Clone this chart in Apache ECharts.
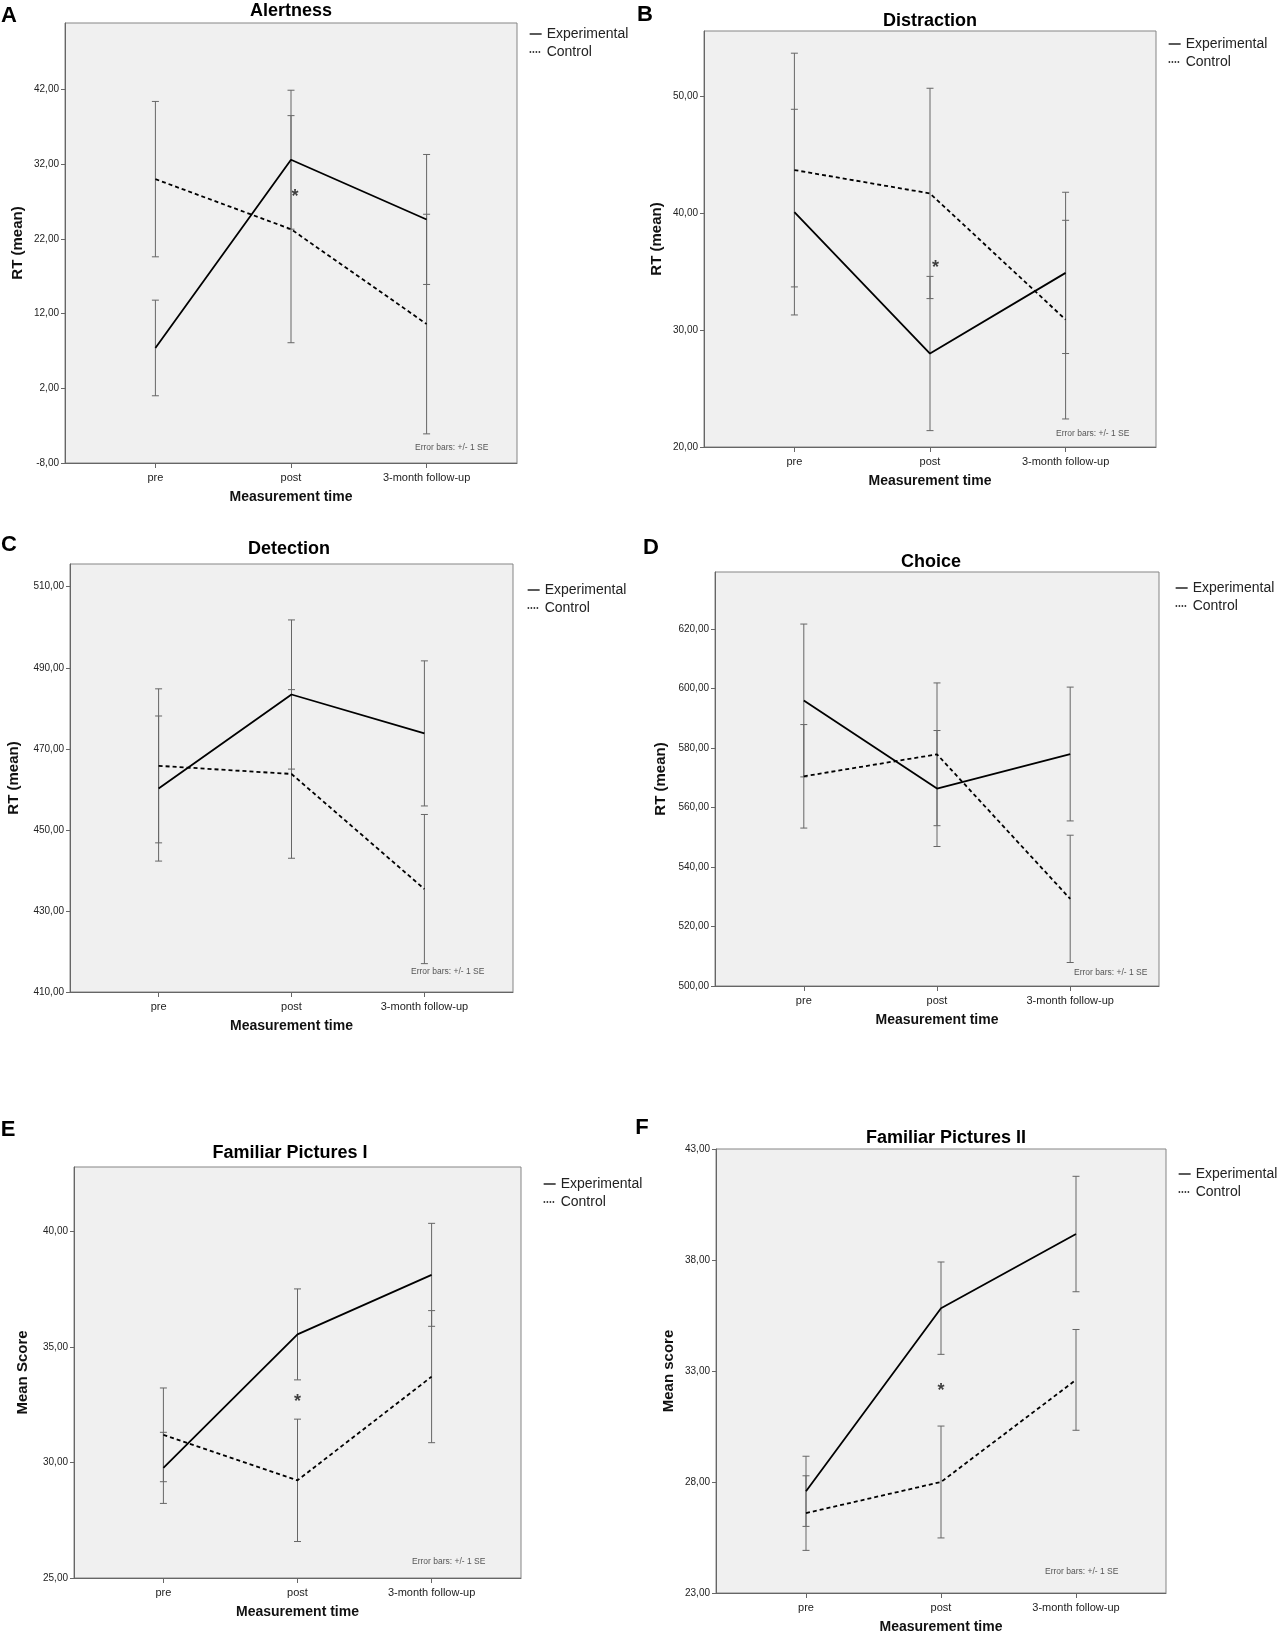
<!DOCTYPE html>
<html>
<head>
<meta charset="utf-8">
<script src="https://cdn.jsdelivr.net/npm/echarts@6/dist/echarts.min.js"></script>
<style>
  html, body { margin: 0; background: #fff; }
  #main { width: 1277px; height: 1639px; }
</style>
</head>
<body>
<div id="main"></div>
<script>
// measurement times (x categories)
var categories = ['pre', 'post', '3-month follow-up'];

// A - Alertness
var alertExp = [7.4, 32.6, 24.6];
var alertExpSE = [6.4, 9.3, 8.7];
var alertCtl = [30.0, 23.3, 10.6];
var alertCtlSE = [10.4, 15.2, 14.7];
var alertTicks = [-8, 2, 12, 22, 32, 42];

// B - Distraction
var distrExp = [40.1, 28.0, 34.9];
var distrExpSE = [8.8, 6.6, 6.9];
var distrCtl = [43.7, 41.7, 30.9];
var distrCtlSE = [10.0, 9.0, 8.5];
var distrTicks = [20, 30, 40, 50];

// C - Detection
var detectExp = [460.2, 483.4, 473.8];
var detectExpSE = [17.9, 18.4, 17.9];
var detectCtl = [465.8, 463.8, 435.4];
var detectCtlSE = [19.0, 20.8, 18.4];
var detectTicks = [410, 430, 450, 470, 490, 510];

// D - Choice
var choiceExp = [596.0, 566.4, 578.0];
var choiceExpSE = [25.7, 19.5, 22.5];
var choiceCtl = [570.5, 577.9, 529.3];
var choiceCtlSE = [17.4, 24.0, 21.4];
var choiceTicks = [500, 520, 540, 560, 580, 600, 620];

// E - Familiar Pictures I
var fam1Exp = [29.77, 35.55, 38.13];
var fam1ExpSE = [1.54, 1.97, 2.23];
var fam1Ctl = [31.2, 29.23, 33.72];
var fam1CtlSE = [2.03, 2.65, 2.86];
var fam1Ticks = [25, 30, 35, 40];

// F - Familiar Pictures II
var fam2Exp = [27.58, 35.83, 39.17];
var fam2ExpSE = [1.58, 2.08, 2.6];
var fam2Ctl = [26.6, 28.0, 32.6];
var fam2CtlSE = [1.68, 2.52, 2.27];
var fam2Ticks = [23, 28, 33, 38, 43];

// significance markers (x index, y value)
var alertSig = [1.03, 28.1];
var distrSig = [1.04, 35.7];
var fam1Sig = [1.0, 32.8];
var fam2Sig = [1.0, 32.3];

var panels = [
  { letter: 'A', title: 'Alertness', yName: 'RT (mean)', exp: alertExp, expSE: alertExpSE, ctl: alertCtl, ctlSE: alertCtlSE, ticks: alertTicks, min: -8, max: 50.9, sig: alertSig },
  { letter: 'B', title: 'Distraction', yName: 'RT (mean)', exp: distrExp, expSE: distrExpSE, ctl: distrCtl, ctlSE: distrCtlSE, ticks: distrTicks, min: 20, max: 55.6, sig: distrSig },
  { letter: 'C', title: 'Detection', yName: 'RT (mean)', exp: detectExp, expSE: detectExpSE, ctl: detectCtl, ctlSE: detectCtlSE, ticks: detectTicks, min: 410, max: 515.6, sig: null },
  { letter: 'D', title: 'Choice', yName: 'RT (mean)', exp: choiceExp, expSE: choiceExpSE, ctl: choiceCtl, ctlSE: choiceCtlSE, ticks: choiceTicks, min: 500, max: 639.2, sig: null },
  { letter: 'E', title: 'Familiar Pictures I', yName: 'Mean Score', exp: fam1Exp, expSE: fam1ExpSE, ctl: fam1Ctl, ctlSE: fam1CtlSE, ticks: fam1Ticks, min: 25, max: 42.8, sig: fam1Sig },
  { letter: 'F', title: 'Familiar Pictures II', yName: 'Mean score', exp: fam2Exp, expSE: fam2ExpSE, ctl: fam2Ctl, ctlSE: fam2CtlSE, ticks: fam2Ticks, min: 23, max: 43, sig: fam2Sig }
];

// layout of each panel in px: plot box, title, letter, legend, note, y name gap
var layouts = [
  { grid: [65, 23, 452, 440], title: [291, 11], letter: [9, 16], legend: [524, 22], note: [415, 448], yGap: 40 },
  { grid: [704, 31, 452, 416], title: [930, 21], letter: [645, 15], legend: [1163, 32], note: [1056, 434], yGap: 40 },
  { grid: [70, 564, 443, 428], title: [289, 549], letter: [9, 545], legend: [522, 578], note: [411, 972], yGap: 49 },
  { grid: [715, 572, 444, 414], title: [931, 562], letter: [651, 548], legend: [1170, 576], note: [1074, 973], yGap: 47 },
  { grid: [74, 1167, 447, 411], title: [290, 1153], letter: [8, 1130], legend: [538, 1172], note: [412, 1562], yGap: 44 },
  { grid: [716, 1149, 450, 444], title: [946, 1138], letter: [642, 1128], legend: [1173, 1162], note: [1045, 1572], yGap: 40 }
];

var FONT = "'Liberation Sans', Arial, sans-serif";

function fmt(v) {
  return v.toFixed(2).replace('.', ',');
}

function renderErrorBar(params, api) {
  var x = api.value(0);
  var lo = api.coord([x, api.value(1)]);
  var hi = api.coord([x, api.value(2)]);
  var w = 3.5;
  var st = { stroke: '#666', lineWidth: 1 };
  return {
    type: 'group',
    children: [
      { type: 'line', shape: { x1: lo[0], y1: lo[1], x2: hi[0], y2: hi[1] }, style: st },
      { type: 'line', shape: { x1: lo[0] - w, y1: lo[1], x2: lo[0] + w, y2: lo[1] }, style: st },
      { type: 'line', shape: { x1: hi[0] - w, y1: hi[1], x2: hi[0] + w, y2: hi[1] }, style: st }
    ]
  };
}

var grids = [], xAxes = [], yAxes = [], series = [], legends = [], texts = [];

panels.forEach(function (p, i) {
  var L = layouts[i];
  grids.push({
    left: L.grid[0], top: L.grid[1], width: L.grid[2], height: L.grid[3],
    show: true, backgroundColor: '#f0f0f0', borderColor: '#858585', borderWidth: 1
  });
  xAxes.push({
    gridIndex: i, type: 'value', min: -2 / 3, max: 8 / 3,
    axisLine: { show: true, onZero: false, lineStyle: { color: '#666' } },
    axisTick: { show: true, customValues: [0, 1, 2], length: 5, lineStyle: { color: '#666' } },
    axisLabel: {
      customValues: [0, 1, 2], margin: 9, fontSize: 11, color: '#222', fontFamily: FONT,
      formatter: function (v) { return categories[Math.round(v)]; }
    },
    splitLine: { show: false },
    name: 'Measurement time', nameLocation: 'middle', nameGap: 27,
    nameTextStyle: { fontSize: 14, fontWeight: 'bold', color: '#111', fontFamily: FONT }
  });
  yAxes.push({
    gridIndex: i, type: 'value', min: p.min, max: p.max,
    axisLine: { show: true, onZero: false, lineStyle: { color: '#666' } },
    axisTick: { show: true, customValues: p.ticks, length: 4, lineStyle: { color: '#666' } },
    axisLabel: { customValues: p.ticks, margin: 6, fontSize: 10, color: '#222', fontFamily: FONT, formatter: fmt },
    splitLine: { show: false },
    name: p.yName, nameLocation: 'middle', nameGap: L.yGap,
    nameTextStyle: { fontSize: 15, fontWeight: 'bold', color: '#111', fontFamily: FONT }
  });

  series.push({
    type: 'line', name: 'Experimental', xAxisIndex: i, yAxisIndex: i, z: 4,
    symbol: 'none', silent: true,
    data: p.exp.map(function (v, j) { return [j, v]; }),
    lineStyle: { color: '#000', width: 1.8 }, itemStyle: { color: '#000' }
  });
  series.push({
    type: 'line', name: 'Control', xAxisIndex: i, yAxisIndex: i, z: 4,
    symbol: 'none', silent: true,
    data: p.ctl.map(function (v, j) { return [j, v]; }),
    lineStyle: { color: '#000', width: 1.8, type: [4, 3] }, itemStyle: { color: '#000' }
  });
  var bars = [];
  p.exp.forEach(function (v, j) { bars.push([j, v - p.expSE[j], v + p.expSE[j]]); });
  p.ctl.forEach(function (v, j) { bars.push([j, v - p.ctlSE[j], v + p.ctlSE[j]]); });
  series.push({
    type: 'custom', name: 'se' + i, xAxisIndex: i, yAxisIndex: i, z: 3, silent: true,
    renderItem: renderErrorBar, encode: { x: 0, y: [1, 2] }, data: bars
  });
  if (p.sig) {
    series.push({
      type: 'scatter', name: 'sig' + i, xAxisIndex: i, yAxisIndex: i, silent: true,
      symbolSize: 0, data: [p.sig],
      label: { show: true, position: 'inside', formatter: '*', fontSize: 18, fontWeight: 'bold', color: '#111', offset: [0, 4], fontFamily: FONT }
    });
  }

  legends.push({
    data: [
      { name: 'Experimental', lineStyle: { type: 'solid', width: 1.3 } },
      { name: 'Control', lineStyle: { type: [1.5, 1.5], width: 1.3 } }
    ],
    orient: 'vertical', left: L.legend[0], top: L.legend[1],
    itemWidth: 12, itemHeight: 14, itemGap: 4, selectedMode: false,
    itemStyle: { opacity: 0 },
    textStyle: { fontSize: 14, color: '#222', fontFamily: FONT }
  });

  texts.push({
    type: 'text', x: L.letter[0], y: L.letter[1],
    style: { text: p.letter, font: 'bold 22px ' + FONT, fill: '#000', align: 'center', verticalAlign: 'middle' }
  });
  texts.push({
    type: 'text', x: L.title[0], y: L.title[1],
    style: { text: p.title, font: 'bold 18px ' + FONT, fill: '#000', align: 'center', verticalAlign: 'middle' }
  });
  texts.push({
    type: 'text', x: L.note[0], y: L.note[1],
    style: { text: 'Error bars: +/- 1 SE', font: '8.5px ' + FONT, fill: '#555', align: 'left', verticalAlign: 'middle' }
  });
});

var chart = echarts.init(document.getElementById('main'), null, { renderer: 'canvas' });
var option = {
  backgroundColor: '#fff',
  animation: false,
  textStyle: { fontFamily: FONT },
  grid: grids,
  xAxis: xAxes,
  yAxis: yAxes,
  legend: legends,
  graphic: texts,
  series: series
};
chart.setOption(option);
</script>
</body>
</html>
